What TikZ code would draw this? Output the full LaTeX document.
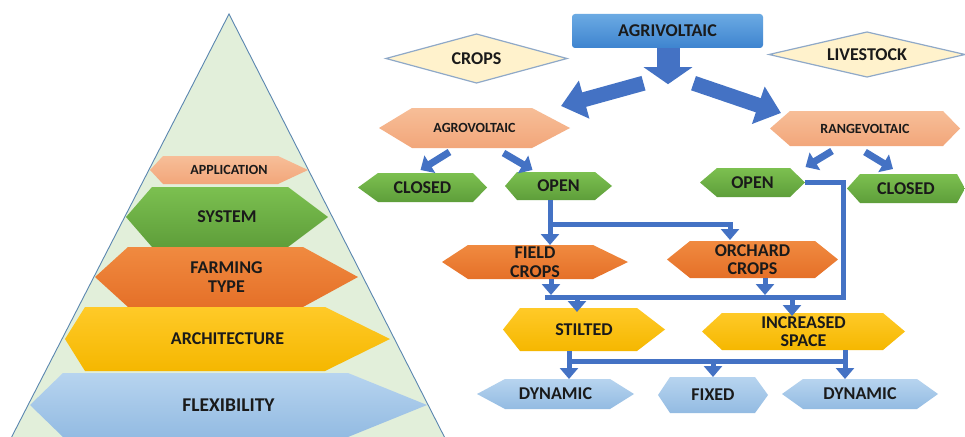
\documentclass[tikz,border=0pt]{standalone}
\usepackage{fontspec}
\setmainfont{Carlito}
\usetikzlibrary{arrows.meta,calc}
\definecolor{pyrfill}{HTML}{E2EFDA}
\definecolor{pyrline}{HTML}{5A86B0}
\definecolor{salT}{HTML}{F7BE98}
\definecolor{salB}{HTML}{F2A67A}
\definecolor{grnT}{HTML}{7CC050}
\definecolor{grnB}{HTML}{5E9E3A}
\definecolor{orgT}{HTML}{F08A40}
\definecolor{orgB}{HTML}{E57028}
\definecolor{yelT}{HTML}{FFCA28}
\definecolor{yelB}{HTML}{F5B700}
\definecolor{bluT}{HTML}{B7D4EF}
\definecolor{bluB}{HTML}{93BBE2}
\definecolor{dfill}{HTML}{FFF2CC}
\definecolor{dline}{HTML}{8FA9C8}
\definecolor{boxT}{HTML}{6BAAE3}
\definecolor{boxB}{HTML}{3E84CF}
\definecolor{arr}{HTML}{4472C4}
\definecolor{txt}{HTML}{1A1A1A}
\newcommand\hexn[9]{%
  \pgfmathsetmacro\hxc{(#2+#3)/2}\pgfmathsetmacro\hyc{(#4+#5)/2}%
  \pgfmathsetmacro\hw{#3-#2}\pgfmathsetmacro\hh{#5-#4}%
  \node[hexbase, minimum width=\hw pt, minimum height=\hh pt] (#1) at (\hxc,\hyc) {};
  \path[#8] (#1.west) -- ([xshift=#6pt]#1.north west) -- ([xshift=-#7pt]#1.north east)
     -- (#1.east) -- ([xshift=-#7pt]#1.south east) -- ([xshift=#6pt]#1.south west) -- cycle;
  \node[lbl] (#1-t) at (#1.center) {#9};
}
\newcommand\diamn[6]{%
  \pgfmathsetmacro\hxc{(#2+#3)/2}\pgfmathsetmacro\hyc{(#4+#5)/2}%
  \pgfmathsetmacro\hw{#3-#2}\pgfmathsetmacro\hh{#5-#4}%
  \node[hexbase, minimum width=\hw pt, minimum height=\hh pt] (#1) at (\hxc,\hyc) {};
  \path[diam] (#1.west) -- (#1.north) -- (#1.east) -- (#1.south) -- cycle;
  \node[lbl] (#1-t) at (#1.center) {#6};
}
\begin{document}
\begin{tikzpicture}[x=1pt,y=-1pt,
  hexbase/.style={shape=rectangle, inner sep=0pt, outer sep=0pt, draw=none},
  lbl/.style={align=center, text=txt, inner sep=0pt, font=\fontsize{18}{18.5}\selectfont\bfseries},
  small/.style={font=\fontsize{14}{15}\selectfont\bfseries},
  salmon/.style={top color=salT, bottom color=salB, draw=none},
  green/.style={top color=grnT, bottom color=grnB, draw=none},
  orange/.style={top color=orgT, bottom color=orgB, draw=none},
  yellow/.style={top color=yelT, bottom color=yelB, draw=none},
  lblue/.style={top color=bluT, bottom color=bluB, draw=none},
  diam/.style={fill=dfill, draw=dline, line width=1.2pt},
  conn/.style={draw=arr, line width=5pt, line join=miter},
  connarr/.style={conn, -{Triangle[width=18pt,length=11pt]}},
  diagarr/.style={draw=arr, line width=7pt, -{Triangle[width=20pt,length=11pt]}},
  bigdown/.style={draw=arr, line width=23pt, -{Triangle[width=48pt,length=17pt]}},
  bigdiag/.style={draw=arr, line width=15pt, -{Triangle[width=38pt,length=24pt]}}
]
\clip (0,0) rectangle (965,436);
\fill[white] (0,0) rectangle (965,436);

% pyramid
\path[fill=pyrfill, draw=pyrline, line width=0.9pt] (229,14) -- (449,446) -- (7,446) -- cycle;
\hexn{app}{150}{308}{156}{184}{13}{30}{salmon}{\fontsize{14}{15}\selectfont APPLICATION}
\hexn{sys}{126}{328}{187}{247}{26}{40}{green}{SYSTEM}
\hexn{farm}{95}{358}{247}{307}{33}{55}{orange}{FARMING\\TYPE}
\hexn{arch}{65}{390}{307}{371}{20}{65}{yellow}{ARCHITECTURE}
\hexn{flex}{30}{427}{373}{437}{33}{79}{lblue}{\fontsize{19.5}{20}\selectfont FLEXIBILITY}

% top box
\node[rectangle, rounded corners=3pt, top color=boxT, bottom color=boxB, minimum width=191pt,
      minimum height=34pt, inner sep=0pt, text=txt, font=\fontsize{18}{18}\selectfont\bfseries]
      (agri) at (667.5,31) {AGRIVOLTAIC};
\diamn{crops}{386}{567}{34}{83}{CROPS}
\diamn{live}{769}{965}{32}{77}{LIVESTOCK}

% second level
\hexn{agro}{379}{570}{108}{148}{33}{38}{salmon}{\fontsize{14}{15}\selectfont AGROVOLTAIC}
\hexn{range}{770}{960}{111}{146}{20}{17}{salmon}{\fontsize{14}{15}\selectfont RANGEVOLTAIC}

% big arrows
\draw[bigdown] ([xshift=0.5pt]agri.south) -- ++(0,36);
\draw[bigdiag] ([xshift=-24pt,yshift=-35pt]agri.south) -- ([xshift=-9pt,yshift=2pt]agro.north east);
\draw[bigdiag] ([xshift=26pt,yshift=-35pt]agri.south) -- ([xshift=11pt,yshift=-2pt]range.north west);

% third level
\hexn{cL}{358}{487}{173}{202}{20}{14}{green}{CLOSED}
\hexn{oL}{505}{612}{172}{200}{12}{17}{green}{OPEN}
\hexn{oR}{700}{805}{168}{197}{17}{15}{green}{OPEN}
\hexn{cR}{847}{965}{174}{203}{13}{8}{green}{CLOSED}

\draw[diagarr] ([xshift=-25pt,yshift=-4pt]agro.south) -- ([xshift=-2pt,yshift=3pt]cL.north);
\draw[diagarr] ([xshift=29pt,yshift=-5pt]agro.south) -- ([xshift=-26pt,yshift=2pt]oL.north);
\draw[diagarr] ([xshift=-33pt,yshift=-5pt]range.south) -- ([xshift=53pt,yshift=1pt]oR.north);
\draw[diagarr] ([xshift=0pt,yshift=-6pt]range.south) -- ([xshift=-13pt,yshift=5pt]cR.north);

% crops level
\hexn{fc}{442}{628}{245}{279}{26}{35}{orange}{FIELD\\CROPS}
\hexn{oc}{667}{838}{241}{278}{23}{23}{orange}{ORCHARD\\CROPS}

\coordinate (j1) at (550,224);
\coordinate (bus) at (843,297);
\draw[connarr] (j1 |- oL.south) -- (j1 |- fc.north);
\draw[connarr] (j1) -- (730,224) -- (730,240);
\draw[conn] (oR.east) -- (bus |- oR.east) -- (bus) -- (545,297);
\draw[connarr] (551,0 |- fc.south) -- (551,295);
\draw[connarr] (765,0 |- oc.south) -- (765,295);

% architecture level
\hexn{st}{503}{665}{308}{351}{17}{28}{yellow}{STILTED}
\hexn{inc}{702}{905}{313}{350}{20}{22}{yellow}{INCREASED\\SPACE}
\draw[connarr] (577,297) -- (577,0 |- st.north) -- ++(0,4);
\draw[connarr] (792,297) -- (792,316);

% flexibility level
\hexn{dL}{477}{634}{379}{409}{28}{24}{lblue}{DYNAMIC}
\hexn{fx}{658}{768}{377}{413}{12}{13}{lblue}{FIXED}
\hexn{dR}{782}{938}{379}{409}{21}{21}{lblue}{DYNAMIC}
\coordinate (j2) at (569,361);
\coordinate (j3) at (845,361);
\draw[connarr] (j2 |- st.south) -- (j2 |- dL.north);
\draw[conn] (j2) -- (j3);
\draw[connarr] (j3 |- inc.south) -- (j3 |- dR.north);
\draw[connarr] (713,361) -- (713,0 |- fx.north);
\end{tikzpicture}
\end{document}
